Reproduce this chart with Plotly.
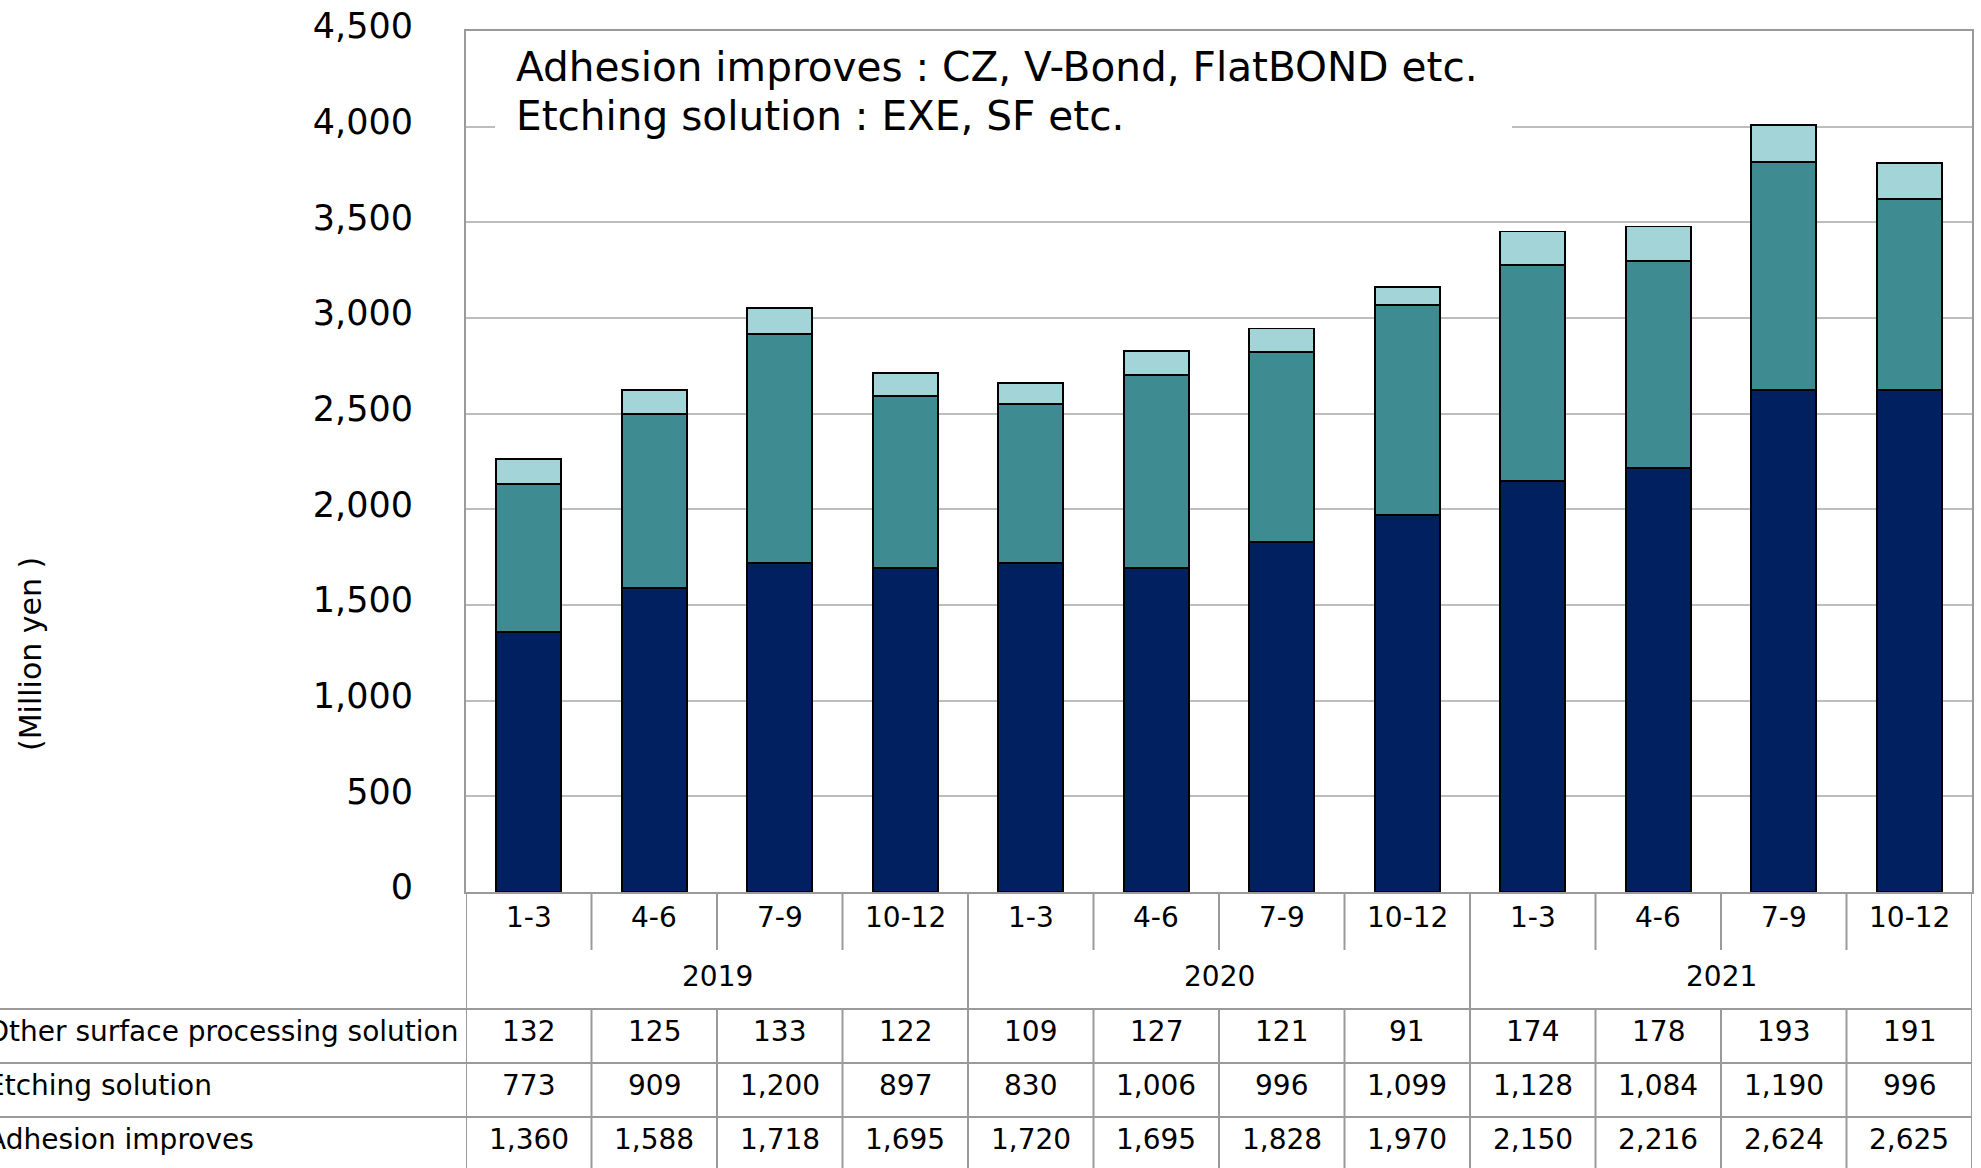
import plotly.graph_objects as go

# Quarterly sales by product line (million yen)
quarters = ["1-3", "4-6", "7-9", "10-12"] * 3
years = ["2019", "2020", "2021"]
series_names = ["Other surface processing solution", "Etching solution", "Adhesion improves"]
other = [132, 125, 133, 122, 109, 127, 121, 91, 174, 178, 193, 191]
etching = [773, 909, 1200, 897, 830, 1006, 996, 1099, 1128, 1084, 1190, 996]
adhesion = [1360, 1588, 1718, 1695, 1720, 1695, 1828, 1970, 2150, 2216, 2624, 2625]
note_lines = ["Adhesion improves : CZ, V-Bond, FlatBOND etc.", "Etching solution : EXE, SF etc."]
y_title = "(Million yen )"

W, H = 1981, 1168
FONT = "DejaVu Sans"
GRID = "#BDBDBD"
LINE = "#9A9A9A"
COLORS = {"Adhesion improves": "#002060", "Etching solution": "#3E8C92",
          "Other surface processing solution": "#A2D4D8"}

# pixel layout helpers
PL, PR, PT, PB = 466, 1972, 31, 892


def px(x):
    return x / W


def py(y):
    return 1 - y / H


xs = list(range(len(quarters)))
fig = go.Figure()
for name, vals in [("Adhesion improves", adhesion), ("Etching solution", etching),
                   ("Other surface processing solution", other)]:
    fig.add_trace(go.Bar(x=xs, y=vals, name=name,
                         marker=dict(color=COLORS[name], line=dict(color="black", width=1.8))))

fig.update_layout(
    width=W, height=H, margin=dict(l=0, r=0, t=0, b=0, pad=0, autoexpand=False),
    barmode="stack", bargap=0.482, showlegend=False,
    plot_bgcolor="white", paper_bgcolor="white",
    font=dict(family=FONT, color="black"),
    xaxis=dict(domain=[px(PL), px(PR)], range=[-0.5, len(quarters) - 0.5],
               showticklabels=False, ticks="", showgrid=False, zeroline=False,
               automargin=False,
               showline=True, mirror=True, linecolor=LINE, linewidth=2),
    yaxis=dict(domain=[py(PB), py(PT)], range=[0, 4500], dtick=500, tickformat=",",
               tickfont=dict(size=35, family=FONT), ticks="", ticklabelstandoff=44,
               ticklabelshift=-5, automargin=False,
               showgrid=True, gridcolor=GRID, gridwidth=1.5, zeroline=False,
               showline=True, mirror=True, linecolor=LINE, linewidth=2),
)

shapes = []
ann = []

# white panel behind the note text (hides the grid there)
shapes.append(dict(type="rect", xref="paper", yref="paper", layer="above",
                   x0=px(495), x1=px(1512), y0=py(142), y1=py(34),
                   fillcolor="white", line=dict(width=0)))
for line_text, yc in zip(note_lines, [67, 116]):
    ann.append(dict(xref="paper", yref="paper", x=px(514), y=py(yc), xanchor="left",
                    yanchor="middle", align="left", showarrow=False,
                    text=line_text, font=dict(size=40.6, family=FONT)))

# axis title
ann.append(dict(xref="paper", yref="paper", x=px(30), y=py(654), textangle=-90,
                showarrow=False, text=y_title, font=dict(size=30, family=FONT),
                xanchor="center", yanchor="middle"))

# data table below the plot
ROW_Q = 917
ROW_Y = 976
row_lines = [1009, 1063, 1117]
row_centers = [1031, 1085, 1139]


def vline(x, y0, y1):
    shapes.append(dict(type="line", xref="x", yref="paper", x0=x, x1=x,
                       y0=py(y0), y1=py(y1), line=dict(color=LINE, width=2)))


def hline(x0p, x1p, y):
    shapes.append(dict(type="line", xref="paper", yref="paper", x0=px(x0p), x1=px(x1p),
                       y0=py(y), y1=py(y), line=dict(color=LINE, width=2)))


n = len(quarters)
for k in range(n + 1):
    xb = k - 0.5
    if k % 4 == 0:
        vline(xb, PB, H)
    else:
        vline(xb, PB, 950)
        vline(xb, row_lines[0], H)

for y in row_lines:
    hline(0, PR, y)

for i, q in enumerate(quarters):
    ann.append(dict(xref="x", yref="paper", x=i, y=py(ROW_Q), text=q, showarrow=False,
                    font=dict(size=28, family=FONT), xanchor="center", yanchor="middle"))

for j, yr in enumerate(years):
    ann.append(dict(xref="x", yref="paper", x=4 * j + 1.5, y=py(ROW_Y), text=yr,
                    showarrow=False, font=dict(size=28, family=FONT),
                    xanchor="center", yanchor="middle"))

table_rows = [other, etching, adhesion]
for r, (label, vals) in enumerate(zip(series_names, table_rows)):
    yc = py(row_centers[r])
    ann.append(dict(xref="paper", yref="paper", x=px(-15), y=yc, text=label,
                    showarrow=False, font=dict(size=28, family=FONT),
                    xanchor="left", yanchor="middle"))
    for i, v in enumerate(vals):
        ann.append(dict(xref="x", yref="paper", x=i, y=yc, text=f"{v:,}",
                        showarrow=False, font=dict(size=28, family=FONT),
                        xanchor="center", yanchor="middle"))

fig.update_layout(shapes=shapes, annotations=ann)
fig.write_html("out.html")
